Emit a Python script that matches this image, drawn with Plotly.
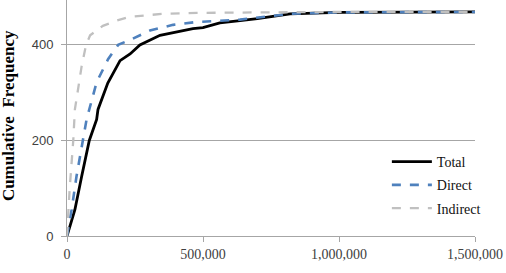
import plotly.graph_objects as go

total_x = [0, 29000, 54000, 82000, 109000, 114000, 150000, 195000, 232000, 268000, 342000, 463000, 500000, 562000, 636000, 700000, 820000, 900000, 1000000, 1500000]
total_y = [0, 55, 125, 200, 244, 265, 320, 367, 381, 400, 420, 434, 436, 446, 451, 455, 465, 467, 468, 469]

direct_x = [0, 17000, 35000, 60000, 72000, 109000, 151000, 188000, 238000, 305000, 390000, 477000, 636000, 820000, 1000000, 1500000]
direct_y = [0, 55, 125, 200, 244, 322, 370, 400, 412, 430, 442, 448, 453, 465, 468, 469]

indirect_x = [0, 10000, 23000, 26000, 29000, 54000, 70000, 85000, 132000, 184000, 232000, 353000, 478000, 700000, 1000000, 1500000]
indirect_y = [0, 100, 200, 244, 265, 356, 400, 420, 440, 451, 459, 465, 467, 468, 469, 469]

x_ticks = [0, 500000, 1000000, 1500000]
x_tick_labels = ["0", "500,000", "1,000,000", "1,500,000"]
y_ticks = [0, 200, 400]

serif = "'Liberation Serif', 'Times New Roman', Times, serif"
sans = "'Liberation Sans', Arial, sans-serif"

fig = go.Figure()
fig.add_trace(go.Scatter(x=total_x, y=total_y, mode="lines", name="Total", legendgroup="t",
                         line=dict(color="#000000", width=2.8)))
fig.add_trace(go.Scatter(x=direct_x, y=direct_y, mode="lines", name="Direct", legendgroup="d",
                         line=dict(color="#4f81bd", width=2.6, dash="dash")))
fig.add_trace(go.Scatter(x=indirect_x, y=indirect_y, mode="lines", name="Indirect", legendgroup="i",
                         line=dict(color="#c0c0c0", width=2.3, dash="dash")))

fig.update_layout(
    width=506, height=273,
    margin=dict(l=67, r=31, t=0, b=37),
    paper_bgcolor="white", plot_bgcolor="white",
    font=dict(family=serif, size=13, color="#404040"),
    showlegend=True,
    legend=dict(x=0.784, y=0.381, xanchor="left", yanchor="top",
                bgcolor="rgba(0,0,0,0)", font=dict(family=serif, size=14, color="#111111"),
                tracegroupgap=2, itemwidth=40),
    xaxis=dict(range=[0, 1500000], tickvals=x_ticks, ticktext=x_tick_labels,
               tickfont=dict(family=serif, size=14, color="#404040"),
               showgrid=False, zeroline=False, showline=True, linecolor="#a6a6a6",
               linewidth=1, ticks="outside", ticklen=5, tickcolor="#a6a6a6"),
    yaxis=dict(range=[0, 494], tickvals=y_ticks, showgrid=True, gridcolor="#a6a6a6",
               tickfont=dict(family=sans, size=13, color="#404040"),
               ticklabelstandoff=5,
               gridwidth=1, zeroline=False, showline=True, linecolor="#a6a6a6",
               linewidth=1, ticks="outside", ticklen=5, tickcolor="#a6a6a6"),
    annotations=[dict(text="<b>Cumulative  Frequency</b>", xref="paper", yref="paper",
                      x=-0.1446, y=0.508, xanchor="center", yanchor="middle",
                      textangle=-90, showarrow=False,
                      font=dict(family=serif, size=17, color="#000000"))],
)

fig.write_html("out.html")
